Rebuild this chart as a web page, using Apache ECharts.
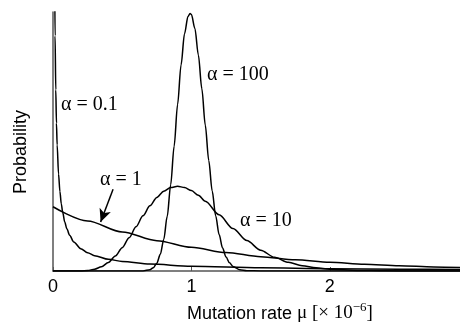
<!DOCTYPE html>
<html>
<head>
<meta charset="utf-8">
<script src="https://cdn.jsdelivr.net/npm/echarts@6/dist/echarts.min.js"></script>
<style>
  html, body { margin: 0; padding: 0; background: #fff; }
  #chart { width: 460px; height: 327px; }
</style>
</head>
<body>
<div id="chart"></div>
<script>
// values (mutation rate in units of 1e-6, probability density)
const muA01 = [0.005, 0.01, 0.015, 0.02, 0.025, 0.03, 0.04, 0.05, 0.06, 0.07, 0.085, 0.1, 0.12, 0.15, 0.2, 0.25, 0.3, 0.4, 0.5, 0.7, 1.0, 1.5, 2.0, 2.5, 3.0];
const pA01 = [9.83, 5.27, 3.66, 2.82, 2.30, 1.96, 1.51, 1.237, 1.044, 0.914, 0.761, 0.656, 0.556, 0.453, 0.348, 0.284, 0.239, 0.183, 0.148, 0.107, 0.0756, 0.0499, 0.0366, 0.0285, 0.023];

const muA1 = [0, 0.25, 0.5, 0.75, 1.0, 1.25, 1.5, 1.75, 2.0, 2.25, 2.5, 2.75, 3.0];
const pA1 = [1.0, 0.779, 0.607, 0.472, 0.368, 0.287, 0.223, 0.174, 0.135, 0.105, 0.082, 0.064, 0.050];

const muA10 = [0, 0.1, 0.15, 0.2, 0.25, 0.3, 0.35, 0.4, 0.45, 0.5, 0.55, 0.6, 0.65, 0.7, 0.75, 0.8, 0.85, 0.9, 0.95, 1.0, 1.05, 1.1, 1.2, 1.3, 1.4, 1.5, 1.6, 1.7, 1.8, 1.9, 2.0, 2.2, 2.4, 2.6, 3.0];
const pA10 = [0, 0, 0.0002, 0.0019, 0.0086, 0.027, 0.0656, 0.132, 0.232, 0.363, 0.518, 0.689, 0.858, 1.014, 1.145, 1.241, 1.298, 1.318, 1.300, 1.251, 1.177, 1.085, 0.874, 0.660, 0.473, 0.324, 0.213, 0.135, 0.0833, 0.0498, 0.0291, 0.0093, 0.0028, 0.0008, 0];

const muA100 = [0, 0.5, 0.6, 0.65, 0.7, 0.725, 0.75, 0.775, 0.8, 0.825, 0.85, 0.875, 0.9, 0.925, 0.95, 0.975, 0.99, 1.0, 1.025, 1.05, 1.075, 1.1, 1.125, 1.15, 1.175, 1.2, 1.225, 1.25, 1.275, 1.3, 1.35, 1.4, 1.5, 3.0];
const pA100 = [0, 0, 0.0001, 0.0019, 0.0197, 0.0522, 0.122, 0.259, 0.49, 0.85, 1.34, 1.943, 2.59, 3.206, 3.69, 3.959, 4.007, 3.99, 3.773, 3.36, 2.838, 2.27, 1.721, 1.245, 0.86, 0.567, 0.358, 0.217, 0.127, 0.0711, 0.0201, 0.005, 0.0002, 0];

const xTicks = [0, 1, 2];

const curveLabels = [
  { text: 'α = 0.1', x: 61, y: 105 },
  { text: 'α = 100', x: 207, y: 75 },
  { text: 'α = 1', x: 100, y: 180 },
  { text: 'α = 10', x: 240, y: 221 }
];

const SANS = 'Liberation Sans';
const SERIF = 'Liberation Serif';
const AXIS = '#555';

function zip(xs, ys) {
  return xs.map((x, i) => [x, ys[i]]);
}

function curve(name, xs, ys, extra) {
  return Object.assign({
    name: name,
    type: 'line',
    data: zip(xs, ys),
    showSymbol: false,
    smooth: 0.3,
    smoothMonotone: 'x',
    silent: true,
    clip: true,
    lineStyle: { color: '#000', width: 1.5 }
  }, extra || {});
}

const chart = echarts.init(document.getElementById('chart'), null, { renderer: 'canvas' });

const option = {
  backgroundColor: '#fff',
  animation: false,
  grid: { left: 53, right: 0, top: 12, bottom: 56 },
  xAxis: {
    type: 'value',
    min: 0,
    max: 2.94,
    interval: 1,
    axisLine: { lineStyle: { color: AXIS, width: 1.5 } },
    axisTick: { inside: true, length: 4, lineStyle: { color: AXIS } },
    axisLabel: {
      color: '#000',
      fontFamily: SANS,
      fontSize: 18,
      margin: 7,
      showMaxLabel: false,
      formatter: v => (xTicks.indexOf(v) >= 0 ? String(v) : '')
    },
    splitLine: { show: false }
  },
  yAxis: {
    type: 'value',
    min: 0,
    max: 4.03,
    axisLine: { show: true, lineStyle: { color: AXIS, width: 1.5 } },
    axisTick: { show: false },
    axisLabel: { show: false },
    splitLine: { show: false }
  },
  series: [
    curve('α = 0.1', muA01, pA01),
    curve('α = 1', muA1, pA1, {
      markLine: {
        silent: true,
        symbol: ['none', 'arrow'],
        symbolSize: [9, 13],
        label: { show: false },
        lineStyle: { color: '#000', width: 1.5, type: 'solid' },
        itemStyle: { color: '#000' },
        data: [[{ coord: [0.434, 1.273] }, { coord: [0.344, 0.761] }]]
      }
    }),
    curve('α = 10', muA10, pA10),
    curve('α = 100', muA100, pA100)
  ],
  graphic: curveLabels.map(l => ({
    type: 'text',
    x: l.x,
    y: l.y,
    silent: true,
    style: {
      text: l.text,
      fill: '#000',
      font: '20px "' + SERIF + '"',
      align: 'left',
      verticalAlign: 'middle'
    }
  })).concat([
    {
      type: 'text',
      x: 21,
      y: 152,
      rotation: Math.PI / 2,
      silent: true,
      style: {
        text: 'Probability',
        fill: '#000',
        font: '18px "' + SANS + '"',
        align: 'center',
        verticalAlign: 'middle'
      }
    },
    {
      type: 'text',
      x: 187,
      y: 312,
      silent: true,
      style: {
        text: '{s|Mutation rate }{t|μ [× 10}{sup|−6}{t|]}',
        fill: '#000',
        align: 'left',
        verticalAlign: 'middle',
        rich: {
          s: { fontFamily: SANS, fontSize: 18, lineHeight: 22, verticalAlign: 'bottom' },
          t: { fontFamily: SERIF, fontSize: 19, lineHeight: 22, verticalAlign: 'bottom' },
          sup: { fontFamily: SERIF, fontSize: 13, lineHeight: 22, verticalAlign: 'top' }
        }
      }
    }
  ])
};

chart.setOption(option);
</script>
</body>
</html>
